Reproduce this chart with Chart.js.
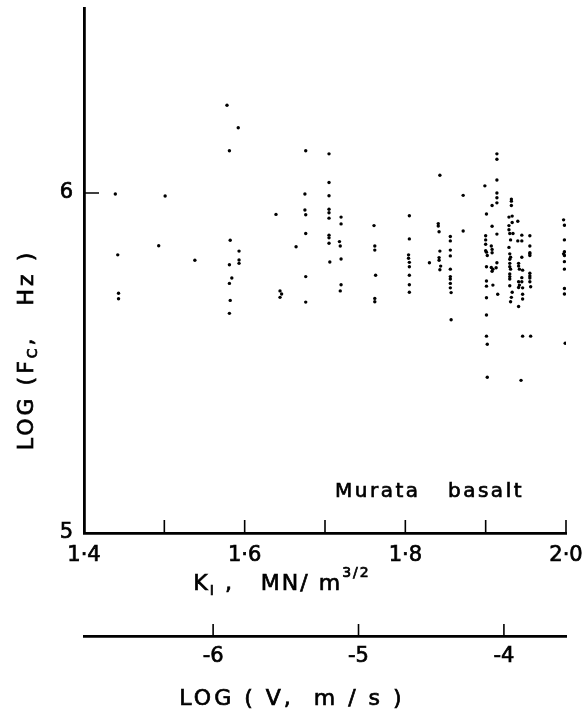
<!DOCTYPE html>
<html>
<head>
<meta charset="utf-8">
<script src="https://cdn.jsdelivr.net/npm/chart.js@4"></script>
<style>
  html, body { margin: 0; padding: 0; background: #fff; }
  canvas { display: block; }
</style>
</head>
<body>
<canvas id="chart" width="588" height="709"></canvas>
<script>
// K_I (MN/m^3/2) for each specimen
const kI = [
  1.439, 1.442, 1.443, 1.443,
  1.501, 1.493, 1.538,
  1.578, 1.581, 1.582, 1.581, 1.584, 1.581, 1.582, 1.581,
  1.592, 1.593, 1.593, 1.593,
  1.639, 1.644, 1.646, 1.644, 1.664,
  1.676, 1.675, 1.675, 1.676, 1.676, 1.676, 1.676,
  1.705, 1.705, 1.705, 1.705, 1.705, 1.705, 1.705, 1.705, 1.705, 1.706,
  1.720, 1.720, 1.718, 1.719, 1.720, 1.720, 1.719,
  1.761, 1.762, 1.762, 1.763, 1.762, 1.762,
  1.805, 1.805, 1.804, 1.804, 1.805, 1.805, 1.805, 1.805, 1.805,
  1.830,
  1.843, 1.841, 1.841, 1.842, 1.843, 1.842, 1.842, 1.844, 1.843,
  1.856, 1.856, 1.856, 1.856, 1.856, 1.856, 1.856, 1.856, 1.856, 1.857, 1.857,
  1.872, 1.872,
  1.899, 1.901, 1.900, 1.900, 1.900, 1.900, 1.901, 1.902, 1.901, 1.901, 1.901, 1.901, 1.901, 1.901, 1.902, 1.902,
  1.908, 1.908, 1.907, 1.908, 1.908, 1.907, 1.909, 1.908, 1.909,
  1.914, 1.914, 1.914, 1.914, 1.914, 1.914, 1.914, 1.914, 1.913, 1.915,
  1.932, 1.932, 1.932, 1.929, 1.933, 1.933, 1.929, 1.929, 1.930, 1.934, 1.931, 1.929, 1.930,
  1.931, 1.930, 1.930, 1.930, 1.931, 1.930, 1.930, 1.930, 1.930, 1.933, 1.932, 1.931,
  1.940, 1.940, 1.941, 1.941, 1.942, 1.941, 1.942, 1.941, 1.941, 1.944,
  1.945, 1.945, 1.945, 1.946, 1.945, 1.945, 1.946, 1.946, 1.946, 1.946,
  1.955, 1.955, 1.955, 1.955, 1.955, 1.955, 1.955, 1.955, 1.955, 1.956, 1.956,
  1.997, 1.998, 1.998, 1.998, 1.997, 1.998, 1.998, 1.998, 1.998, 1.998, 1.999,
];

// log(Fc, Hz), same order as kI
const logFc = [
  5.997, 5.818, 5.705, 5.689,
  5.991, 5.845, 5.802,
  6.258, 6.124, 5.861, 5.789, 5.750, 5.734, 5.684, 5.646,
  6.192, 5.829, 5.803, 5.793,
  5.937, 5.712, 5.703, 5.693, 5.842,
  6.124, 5.997, 5.950, 5.936, 5.881, 5.754, 5.679,
  6.115, 6.031, 5.992, 5.952, 5.942, 5.926, 5.876, 5.868, 5.852, 5.797,
  5.929, 5.909, 5.857, 5.844, 5.806, 5.730, 5.712,
  5.904, 5.844, 5.832, 5.758, 5.690, 5.680,
  5.933, 5.865, 5.818, 5.808, 5.796, 5.783, 5.758, 5.730, 5.708,
  5.795,
  6.052, 5.910, 5.903, 5.886, 5.829, 5.810, 5.802, 5.785, 5.774,
  5.872, 5.859, 5.832, 5.815, 5.776, 5.754, 5.747, 5.734, 5.721, 5.707, 5.627,
  5.993, 5.888,
  6.021, 5.938, 5.874, 5.862, 5.849, 5.830, 5.826, 5.816, 5.783, 5.741, 5.726, 5.692, 5.641, 5.579, 5.555, 5.458,
  5.963, 5.902, 5.844, 5.834, 5.824, 5.781, 5.776, 5.770, 5.729,
  6.115, 6.099, 6.038, 6.000, 5.986, 5.971, 5.879, 5.795, 5.780, 5.702,
  5.982, 5.976, 5.963, 5.929, 5.932, 5.913, 5.904, 5.892, 5.881, 5.881, 5.862, 5.840, 5.821,
  5.811, 5.805, 5.793, 5.783, 5.776, 5.762, 5.754, 5.747, 5.727, 5.708, 5.693, 5.680,
  5.917, 5.859, 5.793, 5.785, 5.776, 5.739, 5.729, 5.722, 5.666, 5.449,
  5.876, 5.859, 5.811, 5.773, 5.751, 5.739, 5.721, 5.702, 5.688, 5.579,
  5.874, 5.844, 5.824, 5.821, 5.816, 5.764, 5.756, 5.750, 5.739, 5.724, 5.579,
  5.921, 5.905, 5.862, 5.827, 5.821, 5.816, 5.798, 5.776, 5.719, 5.703, 5.558,
];

const xTickLabels = [1.4, 1.6, 1.8, 2.0];
const xTickMarks = [1.5, 1.6, 1.7, 1.8, 1.9, 2.0];
const yTickLabels = [5, 6];
const yTickMarks = [6];
const vTicks = [-6, -5, -4];

const FONT = "'DejaVu Sans', sans-serif";
const INK = 0.7; // a touch of stroke to thicken the regular face

function drawRuns(ctx, runs, x, y, align, spacing) {
  ctx.letterSpacing = spacing + 'px';
  const widths = runs.map(r => {
    ctx.font = `${r.size}px ${FONT}`;
    return ctx.measureText(r.text).width;
  });
  const total = widths.reduce((a, b) => a + b, 0);
  let cx = align === 'center' ? x - total / 2 : x;
  runs.forEach((r, i) => {
    ctx.font = `${r.size}px ${FONT}`;
    ctx.fillText(r.text, cx, y + (r.dy || 0));
    ctx.strokeText(r.text, cx, y + (r.dy || 0));
    cx += widths[i];
  });
}

// ticks point into the plot, as in the original figure
const inwardTicks = {
  id: 'inwardTicks',
  afterDraw(chart) {
    const { ctx, scales: { x, y, x2 } } = chart;
    ctx.save();
    ctx.strokeStyle = '#000';
    ctx.lineWidth = 1.6;
    ctx.beginPath();
    xTickMarks.forEach(v => {
      const px = x.getPixelForValue(v);
      ctx.moveTo(px, x.top); ctx.lineTo(px, x.top - 13);
    });
    vTicks.forEach(v => {
      const px = x2.getPixelForValue(v);
      ctx.moveTo(px, x2.top); ctx.lineTo(px, x2.top - 12);
    });
    yTickMarks.forEach(v => {
      const py = y.getPixelForValue(v);
      ctx.moveTo(y.right, py); ctx.lineTo(y.right + 15, py);
    });
    ctx.stroke();
    ctx.restore();
  }
};

const labels = {
  id: 'labels',
  afterDraw(chart) {
    const { ctx } = chart;
    ctx.save();
    ctx.fillStyle = '#000';
    ctx.strokeStyle = '#000';
    ctx.lineWidth = INK;
    ctx.textAlign = 'left';
    ctx.textBaseline = 'alphabetic';

    drawRuns(ctx, [
      { text: 'K', size: 22 },
      { text: 'I', size: 14, dy: 5 },
      { text: ' ,', size: 22 },
      { text: '   MN/ m', size: 22 },
      { text: '3/2', size: 14, dy: -13 },
    ], 282, 590, 'center', 2);

    drawRuns(ctx, [{ text: 'LOG ( V,  m / s )', size: 22 }], 292, 705, 'center', 3);

    drawRuns(ctx, [{ text: 'Murata', size: 20 }], 335, 497, 'left', 2.5);
    drawRuns(ctx, [{ text: 'basalt', size: 20 }], 448, 497, 'left', 2.5);

    ctx.translate(27, 350);
    ctx.rotate(-Math.PI / 2);
    ctx.textBaseline = 'middle';
    drawRuns(ctx, [
      { text: 'LOG (', size: 22 },
      { text: 'F', size: 22 },
      { text: 'C', size: 14, dy: 6 },
      { text: ',   Hz )', size: 22 },
    ], 0, 0, 'center', 3);
    ctx.restore();
  }
};

const tickFont = { family: FONT, size: 21 };
const tickStyle = { color: '#000', font: tickFont, textStrokeColor: '#000', textStrokeWidth: INK, maxRotation: 0 };
const axisBorder = { display: true, color: '#000', width: 2.8 };

new Chart(document.getElementById('chart').getContext('2d'), {
  type: 'scatter',
  data: {
    datasets: [{
      data: kI.map((k, i) => ({ x: k, y: logFc[i] })),
      pointRadius: 1.7,
      pointBackgroundColor: '#000',
      pointBorderWidth: 0,
    }],
  },
  options: {
    responsive: false,
    animation: false,
    devicePixelRatio: 1,
    layout: { padding: { left: 0, top: 8, right: 22, bottom: 0 } },
    plugins: { legend: { display: false }, tooltip: { enabled: false } },
    scales: {
      x: {
        type: 'linear',
        position: 'bottom',
        weight: 0,
        min: 1.4,
        max: 2.0,
        afterBuildTicks: (s) => { s.ticks = xTickLabels.map(v => ({ value: v })); },
        afterFit: (s) => { s.height = 103; s.paddingLeft = 0; s.paddingRight = 0; },
        ticks: { ...tickStyle, padding: 10, callback: (v) => v.toFixed(1).replace('.', '·') },
        grid: { display: false, drawTicks: false },
        border: axisBorder,
      },
      x2: {
        type: 'linear',
        position: 'bottom',
        weight: 1,
        min: -6.888,
        max: -3.573,
        afterBuildTicks: (s) => { s.ticks = vTicks.map(v => ({ value: v })); },
        afterFit: (s) => { s.height = 73; s.paddingLeft = 0; s.paddingRight = 0; },
        ticks: { ...tickStyle, padding: 8, callback: (v) => String(v) },
        grid: { display: false, drawTicks: false },
        border: axisBorder,
      },
      y: {
        type: 'linear',
        min: 5,
        max: 6.544,
        afterBuildTicks: (s) => { s.ticks = yTickLabels.map(v => ({ value: v })); },
        afterFit: (s) => { s.width = 84; s.paddingTop = 0; s.paddingBottom = 0; },
        ticks: { ...tickStyle, padding: 11, callback: (v) => String(v) },
        grid: { display: false, drawTicks: false },
        border: axisBorder,
      },
    },
  },
  plugins: [inwardTicks, labels],
});
</script>
</body>
</html>
